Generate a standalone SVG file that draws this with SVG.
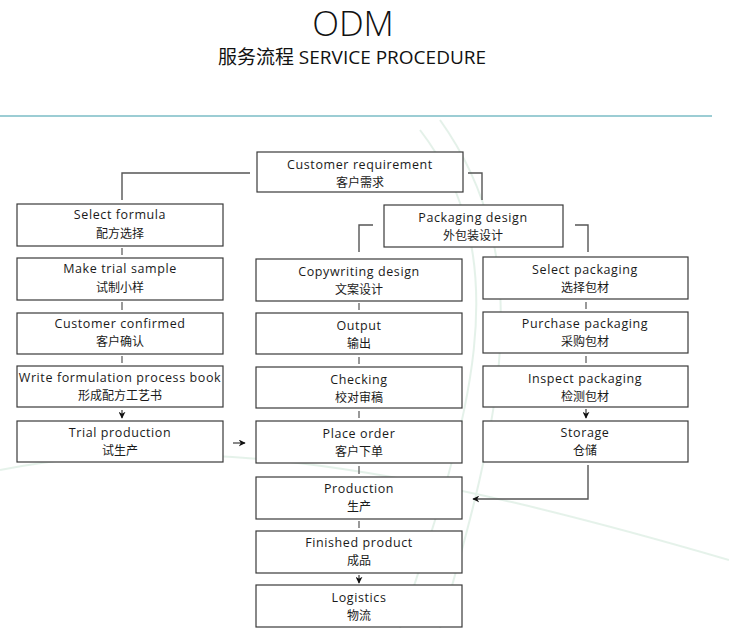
<svg xmlns="http://www.w3.org/2000/svg" width="729" height="628" viewBox="0 0 729 628">
<defs>
<style>
.box{fill:#fff;stroke:#3a3a3a;stroke-width:1.2}
.en{font-family:"Open Sans","Noto Sans","Noto Sans CJK SC",sans-serif;font-size:12.5px;fill:#1a1a1a;text-anchor:middle;letter-spacing:0.6px}
.zh{font-family:"Noto Sans CJK SC","Noto Sans",sans-serif;font-size:12px;fill:#1a1a1a;text-anchor:middle}
.ln{fill:none;stroke:#555;stroke-width:1.4}
.tk{stroke:#555;stroke-width:1.2}
</style>
<marker id="ah" viewBox="0 0 10 10" refX="9" refY="5" markerWidth="7" markerHeight="7" orient="auto" markerUnits="userSpaceOnUse">
<path d="M0,0 L10,5 L0,10 L3,5 Z" fill="#111"/>
</marker>
</defs>
<rect width="729" height="628" fill="#fff"/>
<g id="bg" fill="none" stroke="#d3e9dc" stroke-width="2" opacity="0.6">
<path d="M420,130 C520,260 470,420 400,628"/>
<path d="M440,120 C540,260 500,420 440,628"/>
<path d="M0,470 C200,430 420,470 729,560"/>
</g>
<g id="title">
<text x="353" y="36" font-family="'Open Sans','Noto Sans',sans-serif" font-weight="300" font-size="35" fill="#111" text-anchor="middle">ODM</text>
<text x="352" y="64" font-family="'Open Sans','Noto Sans CJK SC',sans-serif" font-size="19" fill="#111" text-anchor="middle">服务流程 SERVICE PROCEDURE</text>
</g>
<line x1="0" y1="116" x2="712" y2="116" stroke="#7bbcc6" stroke-width="1.5"/>
<g id="connectors">
<path class="ln" d="M250,173 H122 V200"/>
<path class="ln" d="M468,173 H482 V200"/>
<path class="ln" d="M373,225 H359 V252"/>
<path class="ln" d="M575,225 H588 V252"/>
<line class="tk" x1="122" y1="248" x2="122" y2="255"/>
<line class="tk" x1="122" y1="302" x2="122" y2="310"/>
<line class="tk" x1="122" y1="356" x2="122" y2="363"/>
<line class="ln" x1="122" y1="410" x2="122" y2="418" marker-end="url(#ah)"/>
<line class="tk" x1="359" y1="303" x2="359" y2="310"/>
<line class="tk" x1="359" y1="357" x2="359" y2="364"/>
<line class="tk" x1="359" y1="411" x2="359" y2="418"/>
<line class="tk" x1="359" y1="466" x2="359" y2="474"/>
<line class="tk" x1="359" y1="521" x2="359" y2="528"/>
<line class="ln" x1="359" y1="575" x2="359" y2="583" marker-end="url(#ah)"/>
<line class="tk" x1="586" y1="302" x2="586" y2="309"/>
<line class="tk" x1="586" y1="356" x2="586" y2="363"/>
<line class="ln" x1="586" y1="409" x2="586" y2="418" marker-end="url(#ah)"/>
<line class="ln" x1="233" y1="443" x2="245" y2="443" marker-end="url(#ah)"/>
<path class="ln" d="M588,465 V499 H473" marker-end="url(#ah)"/>
</g>
<g id="n-req"><rect class="box" x="257" y="152" width="206" height="40"/><text class="en" x="360" y="169">Customer requirement</text><text class="zh" x="360" y="187">客户需求</text></g>
<g id="n-formula"><rect class="box" x="17" y="204" width="206" height="42"/><text class="en" x="120" y="219">Select  formula</text><text class="zh" x="120" y="238">配方选择</text></g>
<g id="n-pkgdesign"><rect class="box" x="384" y="205" width="179" height="42"/><text class="en" x="473" y="222">Packaging design</text><text class="zh" x="473" y="240">外包装设计</text></g>
<g id="n-sample"><rect class="box" x="17" y="258" width="206" height="42"/><text class="en" x="120" y="273">Make trial sample</text><text class="zh" x="120" y="292">试制小样</text></g>
<g id="n-confirm"><rect class="box" x="17" y="313" width="206" height="41"/><text class="en" x="120" y="328">Customer  confirmed</text><text class="zh" x="120" y="346">客户确认</text></g>
<g id="n-book"><rect class="box" x="17" y="366" width="206" height="41"/><text class="en" x="120" y="382" letter-spacing="0.35">Write formulation process book</text><text class="zh" x="120" y="400">形成配方工艺书</text></g>
<g id="n-trial"><rect class="box" x="17" y="421" width="206" height="41"/><text class="en" x="120" y="437">Trial production</text><text class="zh" x="120" y="455">试生产</text></g>
<g id="n-copy"><rect class="box" x="256" y="259" width="206" height="42"/><text class="en" x="359" y="276">Copywriting design</text><text class="zh" x="359" y="294">文案设计</text></g>
<g id="n-output"><rect class="box" x="256" y="313" width="206" height="41"/><text class="en" x="359" y="330">Output</text><text class="zh" x="359" y="348">输出</text></g>
<g id="n-check"><rect class="box" x="256" y="367" width="206" height="41"/><text class="en" x="359" y="384">Checking</text><text class="zh" x="359" y="402">校对审稿</text></g>
<g id="n-order"><rect class="box" x="256" y="421" width="206" height="42"/><text class="en" x="359" y="438">Place order</text><text class="zh" x="359" y="456">客户下单</text></g>
<g id="n-production"><rect class="box" x="256" y="477" width="206" height="42"/><text class="en" x="359" y="493">Production</text><text class="zh" x="359" y="511">生产</text></g>
<g id="n-finished"><rect class="box" x="256" y="531" width="206" height="42"/><text class="en" x="359" y="547">Finished product</text><text class="zh" x="359" y="565">成品</text></g>
<g id="n-logistics"><rect class="box" x="256" y="585" width="206" height="42"/><text class="en" x="359" y="602">Logistics</text><text class="zh" x="359" y="620">物流</text></g>
<g id="n-selpkg"><rect class="box" x="483" y="257" width="205" height="42"/><text class="en" x="585" y="274">Select packaging</text><text class="zh" x="585" y="292">选择包材</text></g>
<g id="n-purchase"><rect class="box" x="483" y="312" width="205" height="41"/><text class="en" x="585" y="328">Purchase packaging</text><text class="zh" x="585" y="346">采购包材</text></g>
<g id="n-inspect"><rect class="box" x="483" y="366" width="205" height="41"/><text class="en" x="585" y="383">Inspect packaging</text><text class="zh" x="585" y="401">检测包材</text></g>
<g id="n-storage"><rect class="box" x="483" y="421" width="205" height="41"/><text class="en" x="585" y="437">Storage</text><text class="zh" x="585" y="455">仓储</text></g>
</svg>
